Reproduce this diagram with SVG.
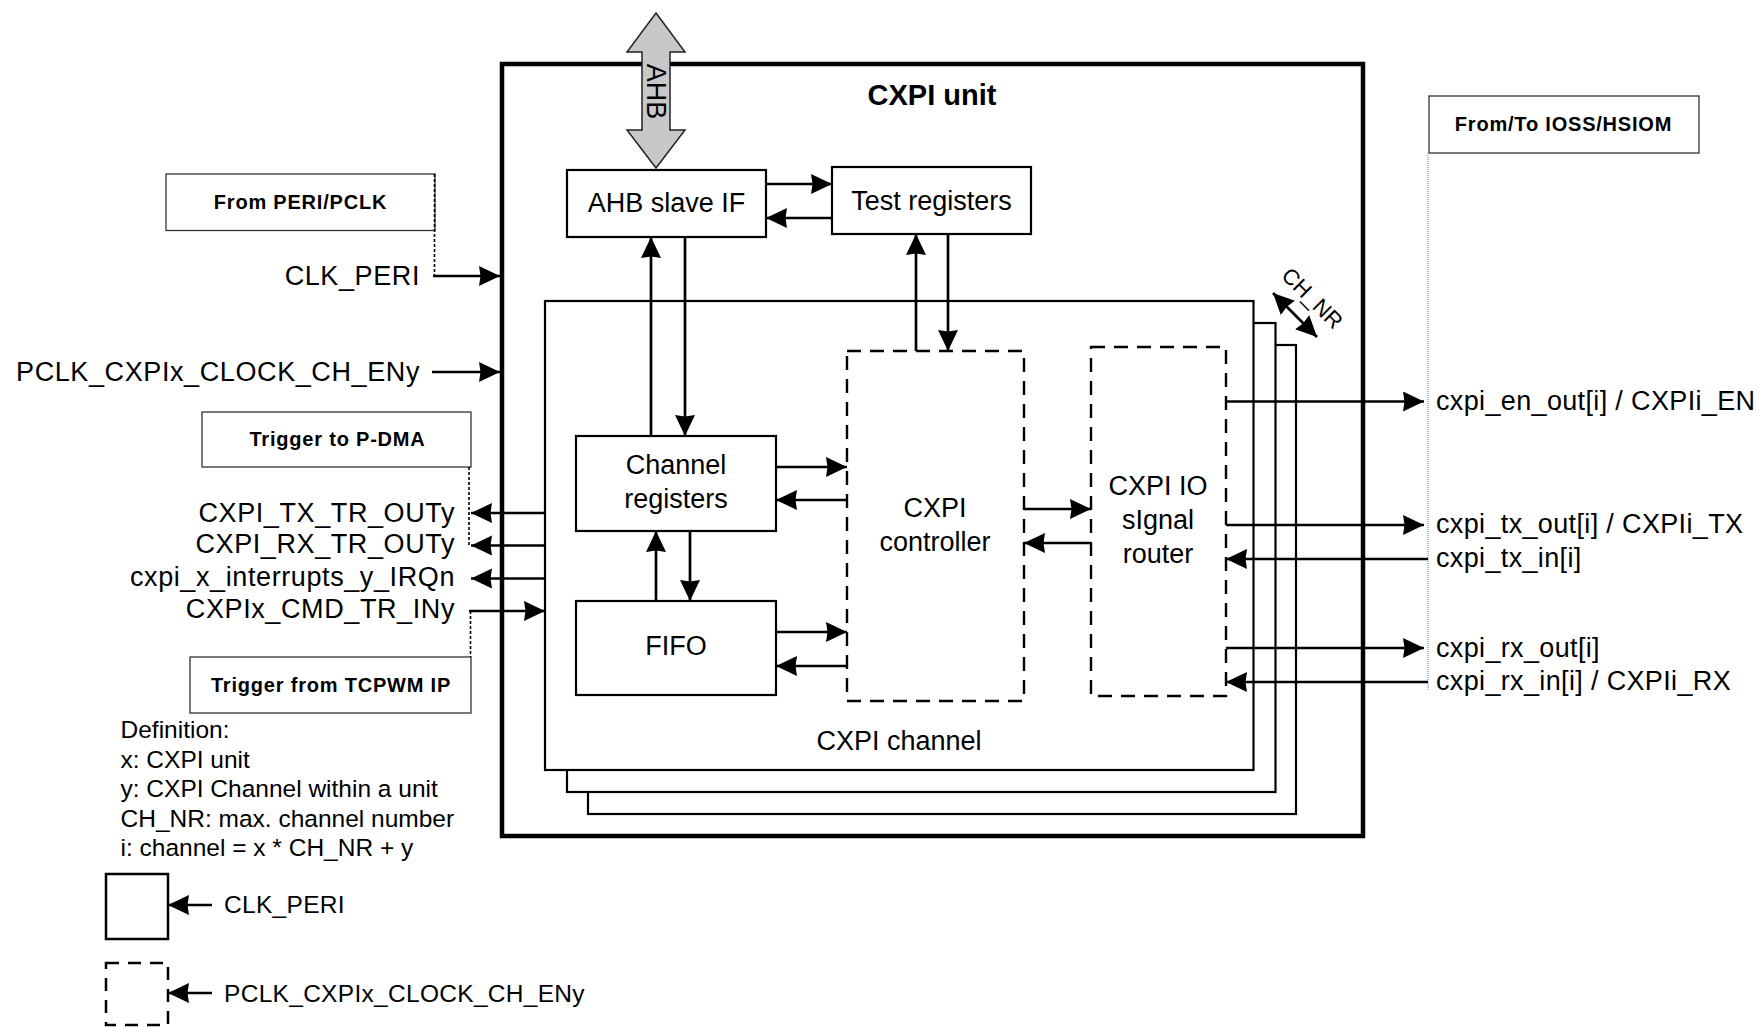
<svg xmlns="http://www.w3.org/2000/svg" width="1760" height="1027" viewBox="0 0 1760 1027">
<style>
text{font-family:"Liberation Sans",Arial,sans-serif;fill:#000}
.t{font-size:27px}
.s{letter-spacing:0.6px}
.r{letter-spacing:0.35px}
.c{text-anchor:middle}
.e{text-anchor:end}
.lbl{font-size:20px;font-weight:bold;letter-spacing:0.8px;text-anchor:middle}
.def{font-size:24.5px}
.box{fill:#fff;stroke:#000;stroke-width:2.2}
.dash{fill:none;stroke:#000;stroke-width:2.4;stroke-dasharray:14 9}
.lb{fill:#fff;stroke:#333;stroke-width:1.3}
.w{fill:none;stroke:#000;stroke-width:2.7}
.a{marker-end:url(#ah)}
.dot{fill:none;stroke:#000;stroke-width:1.6;stroke-dasharray:3 2}
</style>
<defs>
<marker id="ah" markerUnits="userSpaceOnUse" markerWidth="24" markerHeight="22" refX="21" refY="10" orient="auto-start-reverse">
<path d="M0,0 L21,10 L0,20 L1.5,10 z" fill="#000"/>
</marker>
</defs>

<g id="cxpi-unit">
<rect x="502" y="64" width="861" height="772" fill="none" stroke="#000" stroke-width="4.5"/>
<text x="932" y="105" style="font-size:29px;font-weight:bold" class="c">CXPI unit</text>
</g>

<g id="channel-stack">
<rect x="588" y="345" width="708" height="469" class="box"/>
<rect x="567" y="323" width="708.5" height="469" class="box"/>
<rect x="545" y="301" width="708.5" height="469" class="box"/>
<text x="899" y="750" class="t c">CXPI channel</text>
</g>

<g id="ahb-slave-if">
<rect x="567" y="170" width="199" height="67" class="box"/>
<text x="666.5" y="212" class="t c">AHB slave IF</text>
</g>

<g id="test-registers">
<rect x="832" y="167" width="199" height="67" class="box"/>
<text x="931.5" y="210" class="t c">Test registers</text>
</g>

<g id="channel-registers">
<rect x="576" y="436" width="200" height="95" class="box"/>
<text x="676" y="474" class="t c">Channel</text>
<text x="676" y="508" class="t c">registers</text>
</g>

<g id="fifo">
<rect x="576" y="601" width="200" height="94" class="box"/>
<text x="676" y="655" class="t c">FIFO</text>
</g>

<g id="cxpi-controller">
<rect x="847" y="351" width="177" height="350" class="dash"/>
<text x="935" y="517" class="t c">CXPI</text>
<text x="935" y="551" class="t c">controller</text>
</g>

<g id="cxpi-io-router">
<rect x="1091" y="347" width="135" height="349" class="dash"/>
<text x="1158" y="495" class="t c">CXPI IO</text>
<text x="1158" y="529" class="t c">sIgnal</text>
<text x="1158" y="563" class="t c">router</text>
</g>

<g id="ahb-bus">
<polygon points="656,13 685,52 670,52 670,130 685,130 656,168 627,130 642,130 642,52 627,52" fill="#c8c8c8" stroke="#222" stroke-width="1.5"/>
<text transform="translate(647,91.5) rotate(90)" class="t c">AHB</text>
</g>

<g id="from-peri-pclk">
<rect x="166" y="174" width="269" height="56.5" class="lb"/>
<text x="300.5" y="209" class="lbl">From PERI/PCLK</text>
</g>

<g id="trigger-to-pdma">
<rect x="202" y="412" width="269" height="55" class="lb"/>
<text x="337.5" y="446" class="lbl">Trigger to P-DMA</text>
</g>

<g id="trigger-from-tcpwm">
<rect x="190" y="657" width="281" height="56" class="lb"/>
<text x="331" y="692" class="lbl">Trigger from TCPWM IP</text>
</g>

<g id="from-to-ioss">
<rect x="1429" y="96" width="270" height="57" class="lb"/>
<text x="1563.5" y="131" class="lbl">From/To IOSS/HSIOM</text>
</g>

<g id="left-signals">
<text x="420" y="285" class="t s e">CLK_PERI</text>
<text x="420" y="381" class="t s e">PCLK_CXPIx_CLOCK_CH_ENy</text>
<text x="455" y="522" class="t s e">CXPI_TX_TR_OUTy</text>
<text x="455" y="553" class="t s e">CXPI_RX_TR_OUTy</text>
<text x="455" y="586" class="t s e">cxpi_x_interrupts_y_IRQn</text>
<text x="455" y="618" class="t s e">CXPIx_CMD_TR_INy</text>
</g>

<g id="right-signals">
<text x="1436" y="410" class="t r">cxpi_en_out[i] / CXPIi_EN</text>
<text x="1436" y="533" class="t r">cxpi_tx_out[i] / CXPIi_TX</text>
<text x="1436" y="567" class="t r">cxpi_tx_in[i]</text>
<text x="1436" y="657" class="t r">cxpi_rx_out[i]</text>
<text x="1436" y="690" class="t r">cxpi_rx_in[i] / CXPIi_RX</text>
</g>

<g id="ch-nr">
<text transform="translate(1307,303.5) rotate(45)" class="c" style="font-size:22px">CH_NR</text>
</g>

<g id="definition">
<text x="120.5" y="737.5" class="def">Definition:</text>
<text x="120.5" y="767.5" class="def">x: CXPI unit</text>
<text x="120.5" y="797" class="def">y: CXPI Channel within a unit</text>
<text x="120.5" y="826.5" class="def">CH_NR: max. channel number</text>
<text x="120.5" y="856" class="def">i: channel = x * CH_NR + y</text>
</g>

<g id="legend-clk-peri">
<rect x="106" y="874" width="62" height="65" fill="none" stroke="#000" stroke-width="2.5"/>
<text x="224" y="913" class="def" style="letter-spacing:0.3px">CLK_PERI</text>
</g>

<g id="legend-pclk">
<rect x="106" y="963" width="62" height="62" fill="none" stroke="#000" stroke-width="2.5" stroke-dasharray="13 9"/>
<text x="224" y="1002" class="def" style="letter-spacing:0.3px">PCLK_CXPIx_CLOCK_CH_ENy</text>
</g>

<g id="connectors">
<!-- AHB slave IF <-> Test registers -->
<line x1="766" y1="184" x2="832" y2="184" class="w a"/>
<line x1="832" y1="218" x2="766" y2="218" class="w a"/>
<!-- AHB slave IF <-> Channel registers -->
<line x1="651" y1="436" x2="651" y2="237" class="w a"/>
<line x1="685" y1="237" x2="685" y2="436" class="w a"/>
<!-- Test registers <-> controller -->
<line x1="916" y1="351" x2="916" y2="234" class="w a"/>
<line x1="948" y1="234" x2="948" y2="351" class="w a"/>
<!-- Channel registers <-> controller -->
<line x1="776" y1="467" x2="847" y2="467" class="w a"/>
<line x1="847" y1="500" x2="776" y2="500" class="w a"/>
<!-- FIFO <-> controller -->
<line x1="776" y1="632" x2="847" y2="632" class="w a"/>
<line x1="847" y1="666" x2="776" y2="666" class="w a"/>
<!-- Channel registers <-> FIFO -->
<line x1="656" y1="601" x2="656" y2="531" class="w a"/>
<line x1="690" y1="531" x2="690" y2="601" class="w a"/>
<!-- controller <-> router -->
<line x1="1024" y1="509" x2="1091" y2="509" class="w a"/>
<line x1="1091" y1="543" x2="1024" y2="543" class="w a"/>
<!-- left inputs/outputs -->
<line x1="433" y1="276" x2="500" y2="276" class="w a"/>
<line x1="432" y1="372" x2="500" y2="372" class="w a"/>
<line x1="545" y1="513" x2="471" y2="513" class="w a"/>
<line x1="545" y1="545.5" x2="471" y2="545.5" class="w a"/>
<line x1="545" y1="578.5" x2="471" y2="578.5" class="w a"/>
<line x1="469" y1="611" x2="545" y2="611" class="w a"/>
<!-- dotted label links -->
<polyline points="434.5,174 434.5,276" class="dot"/>
<polyline points="469,467 469,545" class="dot"/>
<polyline points="470.5,611 470.5,657" class="dot"/>
<line x1="1428" y1="153" x2="1428" y2="690" fill="none" stroke="#777" stroke-width="1" stroke-dasharray="1 1"/>
<!-- right outputs/inputs -->
<line x1="1226" y1="401.5" x2="1424" y2="401.5" class="w a"/>
<line x1="1226" y1="525" x2="1424" y2="525" class="w a"/>
<line x1="1428" y1="559" x2="1226" y2="559" class="w a"/>
<line x1="1226" y1="648" x2="1424" y2="648" class="w a"/>
<line x1="1428" y1="682" x2="1226" y2="682" class="w a"/>
<!-- CH_NR double arrow -->
<line x1="1273" y1="293" x2="1317" y2="337" class="w a" style="marker-start:url(#ah)"/>
<!-- legend arrows -->
<line x1="212" y1="905" x2="168" y2="905" class="w a"/>
<line x1="212" y1="993" x2="168" y2="993" class="w a"/>
</g>
</svg>
